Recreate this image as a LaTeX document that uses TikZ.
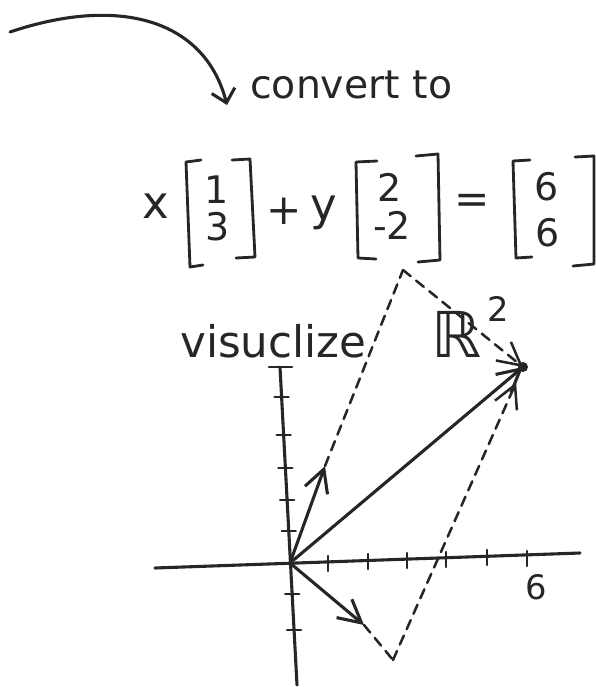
\documentclass[tikz,border=0pt]{standalone}
\usepackage{fontspec}
\setmainfont{DejaVu Sans}
\usetikzlibrary{arrows.meta}
\begin{document}
\begin{tikzpicture}[x=0.025cm,y=-0.025cm,
  pen/.style={line width=2.2pt, line cap=round, line join=round, draw=black!85},
  barb/.style={-{Straight Barb[length=16pt,width=17pt]}},
  smallbarb/.style={-{Straight Barb[length=9pt,width=17pt]}},
  dash line/.style={pen, line width=1.8pt, dash pattern=on 7pt off 5pt},
  axtick/.style={pen, line width=1.8pt},
  brk/.style={pen, line width=2pt},
  hand/.style={inner sep=0pt, text=black!85}]
\useasboundingbox (0,0) rectangle (596,687);
% convert arrow
\coordinate (c0) at (10,32);
\coordinate (c1) at (227,105);
\draw[pen, smallbarb] (c0) .. controls (120,-5) and (205,20) .. (c1);
\node[hand, anchor=base west, font=\fontsize{28}{30}\selectfont] (conv) at (250,98) {convert to};
% equation
\node[hand, font=\fontsize{32}{32}\selectfont] (xv) at (156,206) {x};
\node[hand, font=\fontsize{27}{27}\selectfont] (a1) at (217,190) {1};
\node[hand, font=\fontsize{27}{27}\selectfont] (a2) at (218,227) {3};
\node[hand, font=\fontsize{30}{30}\selectfont] (plus) at (284,211) {+};
\node[hand, font=\fontsize{32}{32}\selectfont] (yv) at (324,213) {y};
\node[hand, font=\fontsize{27}{27}\selectfont] (b1) at (390,187) {2};
\node[hand, font=\fontsize{27}{27}\selectfont] (b2) at (392,225) {-2};
\node[hand, font=\fontsize{30}{30}\selectfont] (eq) at (472,204) {=};
\node[hand, font=\fontsize{27}{27}\selectfont] (s1) at (547,187) {6};
\node[hand, font=\fontsize{27}{27}\selectfont] (s2) at (548,233) {6};
\draw[brk] (201,160) -- (186,162) -- (190,267) -- (203,265);
\draw[brk] (232,160) -- (250,159) -- (255,257) -- (236,258);
\draw[brk] (377,161) -- (356,162) -- (358,258) -- (376,259);
\draw[brk] (416,156) -- (438,154) -- (440,260) -- (418,262);
\draw[brk] (530,160) -- (513,161) -- (516,258) -- (532,257);
\draw[brk] (575,157) -- (594,156) -- (594,264) -- (573,266);
% labels
\node[hand, anchor=base west, font=\fontsize{31}{31}\selectfont] (vis) at (180,357) {visuclize};
\node[hand, anchor=base west, font=\fontsize{45}{45}\selectfont] (rr) at (431,357) {ℝ\hspace{4pt}\raisebox{25pt}{\fontsize{24}{24}\selectfont 2}};
% axes
\coordinate (O) at (290,563);
\coordinate (xl) at (155,568);
\coordinate (xr) at (580,553);
\coordinate (yt) at (280,367);
\coordinate (yb) at (297,685);
\draw[pen] (xl) -- (xr);
\draw[pen] (yt) -- (yb);
\draw[axtick] (269,367) -- (292,367);
\foreach \tx/\ty in {328/563,368/561,407/560,446/559,487/557,527/558}
  \draw[axtick] (\tx,\ty-7) -- (\tx,\ty+8);
\foreach \ty in {397,435,468,500,531,594,630}{
  \pgfmathsetmacro{\tx}{280+(\ty-367)*0.0535}
  \draw[axtick] (\tx-7,\ty) -- (\tx+7,\ty);
}
\node[hand, font=\fontsize{24}{24}\selectfont] (six) at (536,587) {6};
% vectors
\coordinate (A) at (325,466);
\coordinate (B) at (364,625);
\coordinate (S) at (523,367);
\coordinate (P) at (403,270);
\coordinate (Q) at (393,660);
\draw[pen, barb] (O) -- (A);
\draw[pen, barb] (O) -- (B);
\draw[pen, barb] (O) -- (S);
\fill[black!85] (S) circle (5);
\draw[dash line] (A) -- (P);
\draw[dash line, barb] (P) -- (S);
\draw[dash line] (B) -- (Q);
\draw[dash line, barb, shorten >=12] (Q) -- (S);
\end{tikzpicture}
\end{document}
